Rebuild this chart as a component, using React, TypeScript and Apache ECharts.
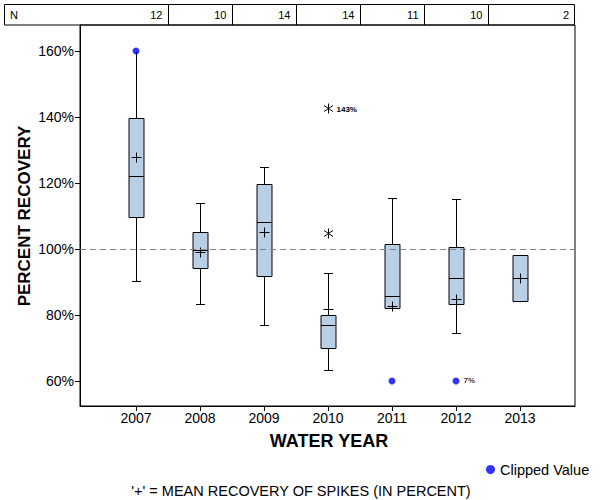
import React, { useEffect, useRef } from "react";
import * as echarts from "echarts";

const years = [2007, 2008, 2009, 2010, 2011, 2012, 2013];
const nCounts = [12, 10, 14, 14, 11, 10, 2];
const whiskerLow = [90.3, 83.2, 76.9, 63.3, 82.0, 74.5, 84.2];
const q1 = [109.6, 94.1, 91.7, 69.9, 82.0, 83.3, 84.2];
const medians = [122.1, 99.6, 108.1, 76.9, 85.8, 91.2, 91.2];
const q3 = [139.6, 105.2, 119.6, 79.9, 101.4, 100.5, 98.1];
const whiskerHigh = [160, 113.9, 124.8, 92.6, 115.4, 115.1, 98.1];
const highCaps = [false, true, true, true, true, true, false];
const means = [127.8, 99.0, 105.1, 81.7, 82.7, 84.8, 91.2];
const outlierYears = [2010, 2010];
const outlierValues = [142.7, 104.8];
const outlierLabels = ["143%", ""];
const clippedYears = [2007, 2011, 2012];
const clippedValues = [160, 60, 60];
const clippedLabels = ["", "", "7%"];
const yTicks = [60, 80, 100, 120, 140, 160];
const refValue = 100;

const FONT = "'Liberation Sans', Arial, sans-serif";
const BOX_FILL = "#B9CFE6";

function line(x1: number, y1: number, x2: number, y2: number, w = 1) {
  return {
    type: "line",
    shape: { x1, y1, x2, y2 },
    style: { stroke: "#000", lineWidth: w },
  };
}

export default function App() {
  const ref = useRef<HTMLDivElement>(null);
  useEffect(() => {
    if (!ref.current) return;
    const chart = echarts.init(ref.current, null, { renderer: "svg" });
    const r = (v: number) => Math.round(v) + 0.5;

    const boxData = years.map((y, i) => [
      y,
      whiskerLow[i],
      q1[i],
      medians[i],
      q3[i],
      whiskerHigh[i],
      highCaps[i] ? 1 : 0,
    ]);

    const option: any = {
      animation: false,
      textStyle: { fontFamily: FONT },
      grid: {
        left: 80,
        right: 25,
        top: 25,
        bottom: 94,
        show: true,
        borderColor: "#000",
        borderWidth: 1,
        backgroundColor: "transparent",
      },
      xAxis: {
        type: "value",
        min: 2006.125,
        max: 2013.86,
        axisLine: { show: true, lineStyle: { color: "#000" } },
        axisTick: { show: true, customValues: years, length: 5, lineStyle: { color: "#000" } },
        axisLabel: {
          customValues: years,
          formatter: (v: number) => String(v),
          fontSize: 14,
          color: "#000",
          margin: 5,
          fontFamily: FONT,
        },
        splitLine: { show: false },
      },
      yAxis: {
        type: "value",
        min: 52.4,
        max: 167.9,
        axisLine: { show: true, lineStyle: { color: "#000" } },
        axisTick: { show: true, customValues: yTicks, length: 5, lineStyle: { color: "#000" } },
        axisLabel: {
          customValues: yTicks,
          formatter: (v: number) => v + "%",
          fontSize: 14,
          color: "#000",
          margin: 6,
          fontFamily: FONT,
        },
        splitLine: { show: false },
      },
      legend: {
        data: ["Clipped Value"],
        left: 481,
        top: 457,
        icon: "circle",
        itemWidth: 9,
        itemHeight: 9,
        itemGap: 6,
        textStyle: { fontSize: 14.5, color: "#000", fontFamily: FONT },
      },
      series: [
        {
          type: "custom",
          name: "boxes",
          data: boxData,
          encode: { x: 0, y: [1, 2, 3, 4, 5] },
          renderItem: (params: any, api: any) => {
            const x = api.value(0);
            const pL = api.coord([x, api.value(1)]);
            const p1 = api.coord([x, api.value(2)]);
            const pM = api.coord([x, api.value(3)]);
            const p3 = api.coord([x, api.value(4)]);
            const pH = api.coord([x, api.value(5)]);
            const cap = api.value(6);
            const cx = r(pL[0]);
            const half = 7.5;
            const capHalf = 4.5;
            const children: any[] = [];
            if (api.value(5) > api.value(4)) {
              children.push(line(cx, r(p3[1]), cx, r(pH[1])));
              if (cap) children.push(line(cx - capHalf, r(pH[1]), cx + capHalf, r(pH[1])));
            }
            if (api.value(1) < api.value(2)) {
              children.push(line(cx, r(p1[1]), cx, r(pL[1])));
              children.push(line(cx - capHalf, r(pL[1]), cx + capHalf, r(pL[1])));
            }
            children.push({
              type: "rect",
              shape: {
                x: cx - half,
                y: r(p3[1]),
                width: half * 2,
                height: r(p1[1]) - r(p3[1]),
              },
              style: { fill: BOX_FILL, stroke: "#000", lineWidth: 1 },
            });
            children.push(line(cx - half, r(pM[1]), cx + half, r(pM[1])));
            return { type: "group", children };
          },
          markLine: {
            silent: true,
            symbol: "none",
            label: { show: false },
            lineStyle: { color: "#808080", type: [6, 4], width: 1 },
            data: [{ yAxis: refValue }],
          },
          z: 2,
        },
        {
          type: "custom",
          name: "means",
          data: years.map((y, i) => [y, means[i]]),
          renderItem: (params: any, api: any) => {
            const p = api.coord([api.value(0), api.value(1)]);
            const x = r(p[0]);
            const y = r(p[1]);
            return {
              type: "group",
              children: [line(x - 5, y, x + 5, y), line(x, y - 5, x, y + 5)],
            };
          },
          z: 3,
        },
        {
          type: "custom",
          name: "outliers",
          data: outlierYears.map((y, i) => ({ value: [y, outlierValues[i]], name: outlierLabels[i] })),
          renderItem: (params: any, api: any) => {
            const p = api.coord([api.value(0), api.value(1)]);
            const x = r(p[0]);
            const y = r(p[1]);
            const lbl = outlierLabels[params.dataIndex];
            const children: any[] = [
              line(x, y - 5, x, y + 5),
              line(x - 4.5, y - 3, x + 4.5, y + 3),
              line(x - 4.5, y + 3, x + 4.5, y - 3),
            ];
            if (lbl) {
              children.push({
                type: "text",
                style: {
                  text: lbl,
                  x: x + 8,
                  y: y + 1,
                  verticalAlign: "middle",
                  fontSize: 8,
                  fontWeight: "bold",
                  fontFamily: FONT,
                  fill: "#000",
                },
              });
            }
            return { type: "group", children };
          },
          z: 3,
        },
        {
          type: "scatter",
          name: "Clipped Value",
          symbol: "circle",
          symbolSize: 7,
          itemStyle: { color: "#0000FF" },
          data: clippedYears.map((y, i) => ({ value: [y, clippedValues[i]], name: clippedLabels[i] })),
          label: {
            show: true,
            position: "right",
            distance: 4,
            formatter: (p: any) => p.name,
            fontSize: 8,
            fontWeight: "bold",
            color: "#000",
            fontFamily: FONT,
          },
          z: 4,
        },
        {
          type: "custom",
          name: "ntable",
          clip: false,
          data: years.map((y, i) => [y, nCounts[i]]),
          renderItem: (params: any, api: any) => {
            const cs = params.coordSys;
            const i = params.dataIndex;
            const yr = api.value(0);
            const isLast = i === years.length - 1;
            const right = isLast ? cs.x + cs.width : r(api.coord([yr + 0.5, 100])[0]);
            const top = 4.5;
            const bottom = cs.y;
            const children: any[] = [];
            if (!isLast) children.push(line(right, top, right, bottom));
            children.push({
              type: "text",
              style: {
                text: String(api.value(1)),
                x: right - 6,
                y: (top + bottom) / 2 + 0.5,
                align: "right",
                verticalAlign: "middle",
                fontSize: 11,
                fontFamily: FONT,
                fill: "#000",
              },
            });
            return { type: "group", children };
          },
          z: 5,
        },
      ],
      graphic: [
        {
          type: "rect",
          shape: { x: 4.5, y: 4.5, width: 570, height: 20.5 },
          style: { fill: "none", stroke: "#000", lineWidth: 1 },
        },
        {
          type: "text",
          x: 10,
          y: 15,
          style: { text: "N", fontSize: 11, fontFamily: FONT, fill: "#000", verticalAlign: "middle" },
        },
        {
          type: "text",
          x: 24,
          y: 216,
          rotation: Math.PI / 2,
          style: {
            text: "PERCENT RECOVERY",
            fontSize: 17,
            fontWeight: "bold",
            fontFamily: FONT,
            fill: "#000",
            align: "center",
            verticalAlign: "middle",
          },
        },
        {
          type: "text",
          x: 329,
          y: 441,
          style: {
            text: "WATER YEAR",
            fontSize: 18,
            fontWeight: "bold",
            fontFamily: FONT,
            fill: "#000",
            align: "center",
            verticalAlign: "middle",
          },
        },
        {
          type: "text",
          x: 301,
          y: 491,
          style: {
            text: "'+' = MEAN RECOVERY OF SPIKES (IN PERCENT)",
            fontSize: 14.5,
            fontFamily: FONT,
            fill: "#000",
            align: "center",
            verticalAlign: "middle",
          },
        },
      ],
    };
    chart.setOption(option);
    return () => chart.dispose();
  }, []);
  return (
    <div
      ref={ref}
      style={{ position: "absolute", left: 0, top: 0, width: 600, height: 500 }}
    />
  );
}
